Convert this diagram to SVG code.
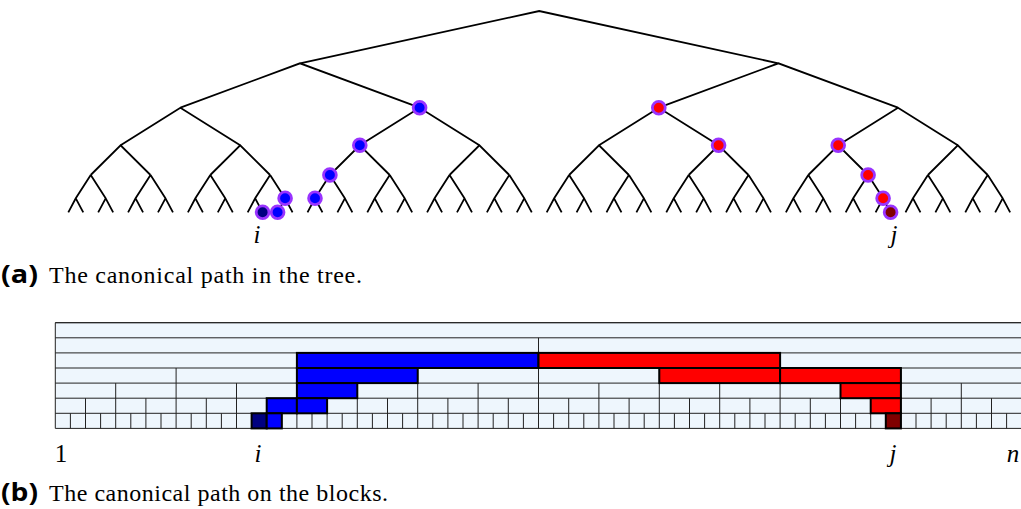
<svg xmlns="http://www.w3.org/2000/svg" xmlns:xlink="http://www.w3.org/1999/xlink" width="1021" height="509" viewBox="0 0 1021 509">
  <style>
    .edge { fill: none; stroke: #000; stroke-width: 1.8; }
    .pt { stroke: #9933ff; stroke-width: 2.8; }
    .pt-blue { fill: #0000ff; }
    .pt-navy { fill: #000080; }
    .pt-red { fill: #ff0000; }
    .pt-dred { fill: #800000; }
    .grid { fill: none; stroke: #222; stroke-width: 1; }
    .blk { stroke: #000; stroke-width: 2; }
    .lbl { font-family: "Liberation Serif", "Times New Roman", serif; font-size: 25px; fill: #000; }
    .it { font-style: italic; }
    .cap { font-family: "Liberation Serif", "Times New Roman", serif; font-size: 24px; fill: #000; }
    .tag { font-family: "Open Sans", "DejaVu Sans", sans-serif; font-weight: 700; font-size: 25px; fill: #000; }
  </style>
  <defs>
    <!-- subtree of one level-4 node: two level-5 nodes and four leaves -->
    <path id="quad" class="edge" d="M22.43,175L7.48,198.3L0,212.3M7.48,198.3L14.95,212.3M22.43,175L37.38,198.3L29.9,212.3M37.38,198.3L44.85,212.3"/>
  </defs>

  <rect width="1021" height="509" fill="#fff"/>

  <!-- tree connectors -->
  <g id="connectors">
    <path class="edge" d="M300,63.3L539.2,11L778.4,63.3
      M180.4,107.7L300,63.3L419.6,107.7
      M658.8,107.7L778.4,63.3L898,107.7
      M120.6,145.3L180.4,107.7L240.2,145.3
      M359.8,145.3L419.6,107.7L479.4,145.3
      M599,145.3L658.8,107.7L718.6,145.3
      M838.2,145.3L898,107.7L957.8,145.3
      M90.7,175L120.6,145.3L150.5,175
      M210.3,175L240.2,145.3L270.1,175
      M329.9,175L359.8,145.3L389.7,175
      M449.5,175L479.4,145.3L509.3,175
      M569.1,175L599,145.3L628.9,175
      M688.7,175L718.6,145.3L748.5,175
      M808.3,175L838.2,145.3L868.1,175
      M927.9,175L957.8,145.3L987.7,175"/>
    <use xlink:href="#quad" transform="translate(68.3,0)"/>
    <use xlink:href="#quad" transform="translate(128.1,0)"/>
    <use xlink:href="#quad" transform="translate(187.9,0)"/>
    <use xlink:href="#quad" transform="translate(247.7,0)"/>
    <use xlink:href="#quad" transform="translate(307.5,0)"/>
    <use xlink:href="#quad" transform="translate(367.3,0)"/>
    <use xlink:href="#quad" transform="translate(427.1,0)"/>
    <use xlink:href="#quad" transform="translate(486.9,0)"/>
    <use xlink:href="#quad" transform="translate(546.7,0)"/>
    <use xlink:href="#quad" transform="translate(606.5,0)"/>
    <use xlink:href="#quad" transform="translate(666.3,0)"/>
    <use xlink:href="#quad" transform="translate(726.1,0)"/>
    <use xlink:href="#quad" transform="translate(785.9,0)"/>
    <use xlink:href="#quad" transform="translate(845.7,0)"/>
    <use xlink:href="#quad" transform="translate(905.5,0)"/>
    <use xlink:href="#quad" transform="translate(965.3,0)"/>
  </g>

  <!-- canonical path nodes, left part (towards i) -->
  <g id="node-L2-1"><circle class="pt pt-blue" cx="419.6" cy="107.7" r="6.4"/></g>
  <g id="node-L3-2"><circle class="pt pt-blue" cx="359.8" cy="145.3" r="6.4"/></g>
  <g id="node-L4-4"><circle class="pt pt-blue" cx="329.9" cy="175" r="6.4"/></g>
  <g id="node-L5-8"><circle class="pt pt-blue" cx="315" cy="198.3" r="6.4"/></g>
  <g id="node-L5-7"><circle class="pt pt-blue" cx="285.1" cy="198.3" r="6.4"/></g>
  <g id="node-leaf-13"><circle class="pt pt-navy" cx="262.6" cy="212.3" r="6.4"/></g>
  <g id="node-leaf-14"><circle class="pt pt-blue" cx="277.6" cy="212.3" r="6.4"/></g>

  <!-- canonical path nodes, right part (towards j) -->
  <g id="node-L2-2"><circle class="pt pt-red" cx="658.8" cy="107.7" r="6.4"/></g>
  <g id="node-L3-5"><circle class="pt pt-red" cx="718.6" cy="145.3" r="6.4"/></g>
  <g id="node-L3-6"><circle class="pt pt-red" cx="838.2" cy="145.3" r="6.4"/></g>
  <g id="node-L4-13"><circle class="pt pt-red" cx="868.1" cy="175" r="6.4"/></g>
  <g id="node-L5-27"><circle class="pt pt-red" cx="883.1" cy="198.3" r="6.4"/></g>
  <g id="node-leaf-55"><circle class="pt pt-dred" cx="890.6" cy="212.3" r="6.4"/></g>

  <text class="lbl it" x="257" y="243" text-anchor="middle">i</text>
  <text class="lbl it" x="894" y="243" text-anchor="middle">j</text>

  <text class="tag" x="1" y="283" textLength="37" lengthAdjust="spacingAndGlyphs">(a)</text>
  <text class="cap" x="49" y="283" textLength="313">The canonical path in the tree.</text>

  <!-- block decomposition: 7 levels, 64 unit cells -->
  <g id="blocks">
    <rect x="55.3" y="322.7" width="968" height="105.7" fill="#eef6fd"/>
    <path class="grid" d="M55.3,322.7H1023M55.3,337.8H1023M55.3,352.9H1023M55.3,368H1023M55.3,383.1H1023M55.3,398.2H1023M55.3,413.3H1023M55.3,428.4H1023M55.3,322.7V428.4"/>
    <path class="grid" stroke="#666" d="M55.3,322.7H1023"/>
    <path class="grid" d="M538.5,337.8V428.4
      M296.9,352.9V428.4M780.1,352.9V428.4
      M176.1,368V428.4M417.7,368V428.4M659.3,368V428.4M900.9,368V428.4
      M115.7,383.1V428.4M236.5,383.1V428.4M357.3,383.1V428.4M478.1,383.1V428.4M598.9,383.1V428.4M719.7,383.1V428.4M840.5,383.1V428.4M961.3,383.1V428.4
      M85.5,398.2V428.4M145.9,398.2V428.4M206.3,398.2V428.4M266.7,398.2V428.4M327.1,398.2V428.4M387.5,398.2V428.4M447.9,398.2V428.4M508.3,398.2V428.4M568.7,398.2V428.4M629.1,398.2V428.4M689.5,398.2V428.4M749.9,398.2V428.4M810.3,398.2V428.4M870.7,398.2V428.4M931.1,398.2V428.4M991.5,398.2V428.4
      M70.4,413.3V428.4M100.6,413.3V428.4M130.8,413.3V428.4M161,413.3V428.4M191.2,413.3V428.4M221.4,413.3V428.4M251.6,413.3V428.4M281.8,413.3V428.4M312,413.3V428.4M342.2,413.3V428.4M372.4,413.3V428.4M402.6,413.3V428.4M432.8,413.3V428.4M463,413.3V428.4M493.2,413.3V428.4M523.4,413.3V428.4M553.6,413.3V428.4M583.8,413.3V428.4M614,413.3V428.4M644.2,413.3V428.4M674.4,413.3V428.4M704.6,413.3V428.4M734.8,413.3V428.4M765,413.3V428.4M795.2,413.3V428.4M825.4,413.3V428.4M855.6,413.3V428.4M885.8,413.3V428.4M916,413.3V428.4M946.2,413.3V428.4M976.4,413.3V428.4M1006.6,413.3V428.4"/>
  </g>

  <!-- highlighted blocks of the canonical path -->
  <g id="path-blocks-left">
    <rect class="blk pt-blue" x="296.9" y="352.9" width="241.6" height="15.1"/>
    <rect class="blk pt-blue" x="296.9" y="368" width="120.8" height="15.1"/>
    <rect class="blk pt-blue" x="296.9" y="383.1" width="60.4" height="15.1"/>
    <rect class="blk pt-blue" x="266.7" y="398.2" width="30.2" height="15.1"/>
    <rect class="blk pt-blue" x="296.9" y="398.2" width="30.2" height="15.1"/>
    <rect class="blk pt-navy" x="251.6" y="413.3" width="15.1" height="15.1"/>
    <rect class="blk pt-blue" x="266.7" y="413.3" width="15.1" height="15.1"/>
  </g>
  <g id="path-blocks-right">
    <rect class="blk pt-red" x="538.5" y="352.9" width="241.6" height="15.1"/>
    <rect class="blk pt-red" x="659.3" y="368" width="120.8" height="15.1"/>
    <rect class="blk pt-red" x="780.1" y="368" width="120.8" height="15.1"/>
    <rect class="blk pt-red" x="840.5" y="383.1" width="60.4" height="15.1"/>
    <rect class="blk pt-red" x="870.7" y="398.2" width="30.2" height="15.1"/>
    <rect class="blk pt-dred" x="885.8" y="413.3" width="15.1" height="15.1"/>
  </g>

  <text class="lbl" x="61" y="462" text-anchor="middle">1</text>
  <text class="lbl it" x="258" y="462" text-anchor="middle">i</text>
  <text class="lbl it" x="893" y="462" text-anchor="middle">j</text>
  <text class="lbl it" x="1013" y="462" text-anchor="middle">n</text>

  <text class="tag" x="1" y="501" textLength="37" lengthAdjust="spacingAndGlyphs">(b)</text>
  <text class="cap" x="49" y="501" textLength="339">The canonical path on the blocks.</text>
</svg>
